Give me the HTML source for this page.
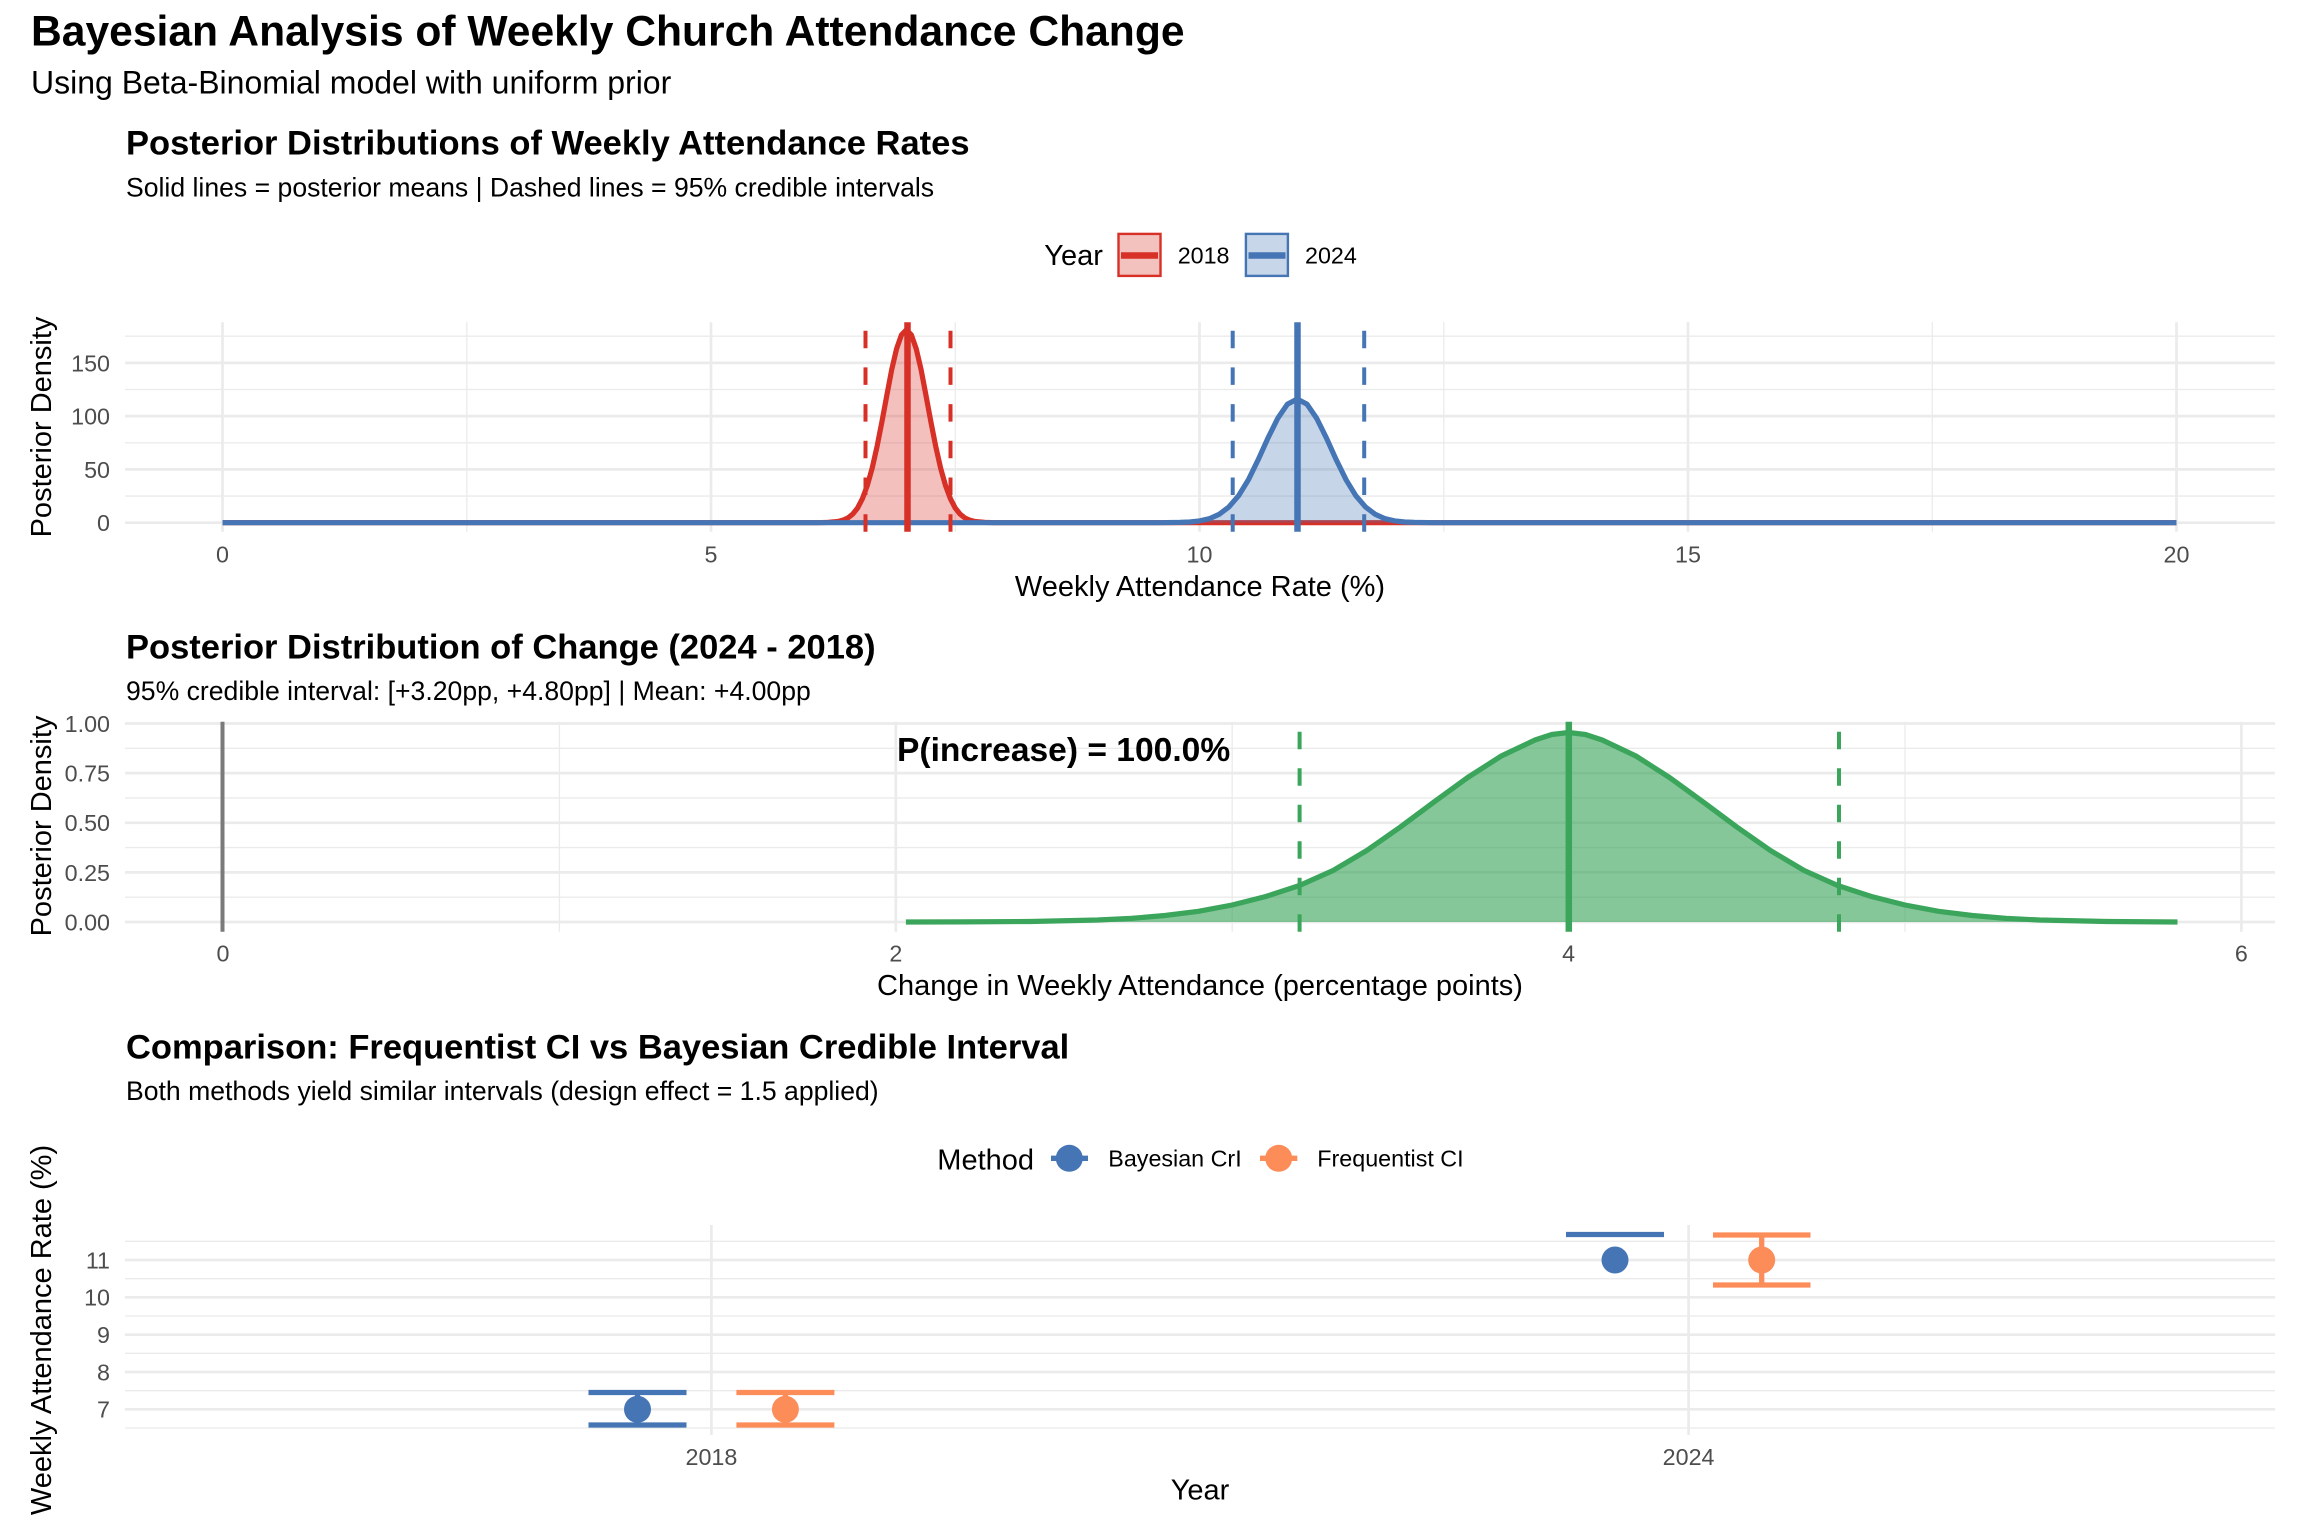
<!DOCTYPE html>
<html><head><meta charset="utf-8"><style>
html,body{margin:0;padding:0;background:#fff;}
svg{display:block;}
text{font-family:"Liberation Sans",Arial,sans-serif;}
.tk{font-size:23.3px;fill:#4d4d4d;}
.at{font-size:29px;fill:#000;}
.pt{font-size:34.5px;font-weight:bold;fill:#000;}
.ps{font-size:26.6px;fill:#000;}
.lg{font-size:23.3px;fill:#000;}
.gM{stroke:#ebebeb;stroke-width:2.7;fill:none;}
.gm{stroke:#ebebeb;stroke-width:1.35;fill:none;}
</style></head><body>
<svg width="2304" height="1536" viewBox="0 0 2304 1536" xmlns="http://www.w3.org/2000/svg">
<rect width="2304" height="1536" fill="#fff"/>
<!-- Main titles -->
<text x="31" y="45.7" style="font-size:42.6px;font-weight:bold">Bayesian Analysis of Weekly Church Attendance Change</text>
<text x="31" y="93.3" style="font-size:32px">Using Beta-Binomial model with uniform prior</text>

<!-- ============ PANEL 1 ============ -->
<text class="pt" x="126" y="154.3">Posterior Distributions of Weekly Attendance Rates</text>
<text class="ps" x="126" y="196.7">Solid lines = posterior means | Dashed lines = 95% credible intervals</text>
<!-- legend -->
<text class="at" x="1044.3" y="265">Year</text>
<rect x="1118.5" y="233.9" width="42" height="42" fill="#f3c1be" stroke="#d73027" stroke-width="2.4"/>
<line x1="1121" y1="255.5" x2="1158" y2="255.5" stroke="#d73027" stroke-width="6.5"/>
<text class="lg" x="1177.7" y="263.3">2018</text>
<rect x="1245.9" y="233.9" width="42" height="42" fill="#c7d6e8" stroke="#4575b4" stroke-width="2.4"/>
<line x1="1248.5" y1="255.5" x2="1285.5" y2="255.5" stroke="#4575b4" stroke-width="6.5"/>
<text class="lg" x="1305" y="263.3">2024</text>
<!-- grid -->
<g class="gm">
<line x1="125" y1="496.1" x2="2275" y2="496.1"/><line x1="125" y1="442.8" x2="2275" y2="442.8"/>
<line x1="125" y1="389.5" x2="2275" y2="389.5"/><line x1="125" y1="336.2" x2="2275" y2="336.2"/>
<line x1="466.8" y1="322.3" x2="466.8" y2="531.7"/><line x1="955.3" y1="322.3" x2="955.3" y2="531.7"/>
<line x1="1443.8" y1="322.3" x2="1443.8" y2="531.7"/><line x1="1932.3" y1="322.3" x2="1932.3" y2="531.7"/>
</g>
<g class="gM">
<line x1="125" y1="522.7" x2="2275" y2="522.7"/><line x1="125" y1="469.4" x2="2275" y2="469.4"/>
<line x1="125" y1="416.1" x2="2275" y2="416.1"/><line x1="125" y1="362.9" x2="2275" y2="362.9"/>
<line x1="222.5" y1="322.3" x2="222.5" y2="531.7"/><line x1="711" y1="322.3" x2="711" y2="531.7"/>
<line x1="1199.5" y1="322.3" x2="1199.5" y2="531.7"/><line x1="1688" y1="322.3" x2="1688" y2="531.7"/>
<line x1="2176.5" y1="322.3" x2="2176.5" y2="531.7"/>
</g>
<!-- red density -->
<polygon fill="#d73027" fill-opacity="0.3" points="818.5,522.7 828.2,522.4 838,521.5 842.9,520.2 847.8,518 852.7,514.1 857.6,508 862.4,498.7 867.3,485.5 872.2,468.1 877.1,446.3 882,421.4 886.9,395 891.7,369.7 896.6,348.7 901.5,334.8 906.4,329.9 911.3,334.8 916.2,348.7 921.1,369.7 925.9,395 930.8,421.4 935.7,446.3 940.6,468.1 945.5,485.5 950.4,498.7 955.2,508 960.1,514.1 965,518 969.9,520.2 974.8,521.5 984.6,522.4 994.3,522.7"/>
<polyline fill="none" stroke="#d73027" stroke-width="5.2" stroke-linejoin="round" points="222.5,522.7 818.5,522.7 828.2,522.4 838,521.5 842.9,520.2 847.8,518 852.7,514.1 857.6,508 862.4,498.7 867.3,485.5 872.2,468.1 877.1,446.3 882,421.4 886.9,395 891.7,369.7 896.6,348.7 901.5,334.8 906.4,329.9 911.3,334.8 916.2,348.7 921.1,369.7 925.9,395 930.8,421.4 935.7,446.3 940.6,468.1 945.5,485.5 950.4,498.7 955.2,508 960.1,514.1 965,518 969.9,520.2 974.8,521.5 984.6,522.4 994.3,522.7 2176.5,522.7"/>
<!-- blue density -->
<polygon fill="#4575b4" fill-opacity="0.3" points="1160.4,522.7 1180,522.4 1189.7,522 1199.5,520.9 1209.3,518.7 1219,514.4 1228.8,507.1 1238.6,495.7 1248.4,479.8 1258.1,459.9 1267.9,438.2 1277.7,418.4 1287.4,404.2 1297.2,399.1 1307,404.2 1316.7,418.4 1326.5,438.2 1336.3,459.9 1346.1,479.8 1355.8,495.7 1365.6,507.1 1375.4,514.4 1385.1,518.7 1394.9,520.9 1404.7,522 1414.4,522.4 1434,522.7"/>
<polyline fill="none" stroke="#4575b4" stroke-width="5.2" stroke-linejoin="round" points="222.5,522.7 1160.4,522.7 1180,522.4 1189.7,522 1199.5,520.9 1209.3,518.7 1219,514.4 1228.8,507.1 1238.6,495.7 1248.4,479.8 1258.1,459.9 1267.9,438.2 1277.7,418.4 1287.4,404.2 1297.2,399.1 1307,404.2 1316.7,418.4 1326.5,438.2 1336.3,459.9 1346.1,479.8 1355.8,495.7 1365.6,507.1 1375.4,514.4 1385.1,518.7 1394.9,520.9 1404.7,522 1414.4,522.4 1434,522.7 2176.5,522.7"/>
<!-- vlines -->
<g stroke-width="4" stroke-dasharray="17.5 19.2">
<line x1="865.5" y1="531.7" x2="865.5" y2="322.3" stroke="#d73027"/>
<line x1="950.5" y1="531.7" x2="950.5" y2="322.3" stroke="#d73027"/>
<line x1="1232.7" y1="531.7" x2="1232.7" y2="322.3" stroke="#4575b4"/>
<line x1="1364.2" y1="531.7" x2="1364.2" y2="322.3" stroke="#4575b4"/>
</g>
<line x1="907.5" y1="531.7" x2="907.5" y2="322.3" stroke="#d73027" stroke-width="6.5"/>
<line x1="1297.5" y1="531.7" x2="1297.5" y2="322.3" stroke="#4575b4" stroke-width="6.5"/>
<!-- axes text -->
<g class="tk" text-anchor="end">
<text x="110" y="531.1">0</text><text x="110" y="477.8">50</text><text x="110" y="424.5">100</text><text x="110" y="371.3">150</text>
</g>
<g class="tk" text-anchor="middle">
<text x="222.5" y="562.5">0</text><text x="711" y="562.5">5</text><text x="1199.5" y="562.5">10</text><text x="1688" y="562.5">15</text><text x="2176.5" y="562.5">20</text>
</g>
<text class="at" x="1200" y="596" text-anchor="middle">Weekly Attendance Rate (%)</text>
<text class="at" transform="translate(51,427) rotate(-90)" text-anchor="middle">Posterior Density</text>

<!-- ============ PANEL 2 ============ -->
<text class="pt" x="126" y="658.3">Posterior Distribution of Change (2024 - 2018)</text>
<text class="ps" x="126" y="700">95% credible interval: [+3.20pp, +4.80pp] | Mean: +4.00pp</text>
<g class="gm">
<line x1="125" y1="897.2" x2="2275" y2="897.2"/><line x1="125" y1="847.6" x2="2275" y2="847.6"/>
<line x1="125" y1="797.9" x2="2275" y2="797.9"/><line x1="125" y1="748.3" x2="2275" y2="748.3"/>
<line x1="559.4" y1="721.7" x2="559.4" y2="931.7"/><line x1="1232.2" y1="721.7" x2="1232.2" y2="931.7"/>
<line x1="1905" y1="721.7" x2="1905" y2="931.7"/>
</g>
<g class="gM">
<line x1="125" y1="922" x2="2275" y2="922"/><line x1="125" y1="872.4" x2="2275" y2="872.4"/>
<line x1="125" y1="822.8" x2="2275" y2="822.8"/><line x1="125" y1="773.1" x2="2275" y2="773.1"/>
<line x1="125" y1="723.5" x2="2275" y2="723.5"/>
<line x1="223" y1="721.7" x2="223" y2="931.7"/><line x1="895.8" y1="721.7" x2="895.8" y2="931.7"/>
<line x1="1568.6" y1="721.7" x2="1568.6" y2="931.7"/><line x1="2241.4" y1="721.7" x2="2241.4" y2="931.7"/>
</g>
<line x1="222.5" y1="721.7" x2="222.5" y2="931.7" stroke="#7a7a7a" stroke-width="4"/>
<polygon fill="#3ba55c" fill-opacity="0.62" points="905.9,922 963.1,921.9 1030.4,921.5 1097.6,920 1131.3,918.4 1164.9,915.5 1198.5,911.3 1232.2,905 1265.8,896.5 1299.5,885.5 1333.1,870.5 1366.8,850.5 1400.4,827 1434,802 1467.7,777.5 1501.3,756 1535,740 1551.8,734.5 1568.6,732.5 1585.4,734.5 1602.2,740 1635.9,756 1669.5,777.5 1703.2,802 1736.8,827 1770.4,850.5 1804.1,870.5 1837.7,885.5 1871.4,896.5 1905,905 1938.6,911.3 1972.3,915.5 2005.9,918.4 2039.6,920 2106.8,921.5 2177.5,922"/>
<polyline fill="none" stroke="#3ba55c" stroke-width="5.2" stroke-linejoin="round" points="905.9,922 963.1,921.9 1030.4,921.5 1097.6,920 1131.3,918.4 1164.9,915.5 1198.5,911.3 1232.2,905 1265.8,896.5 1299.5,885.5 1333.1,870.5 1366.8,850.5 1400.4,827 1434,802 1467.7,777.5 1501.3,756 1535,740 1551.8,734.5 1568.6,732.5 1585.4,734.5 1602.2,740 1635.9,756 1669.5,777.5 1703.2,802 1736.8,827 1770.4,850.5 1804.1,870.5 1837.7,885.5 1871.4,896.5 1905,905 1938.6,911.3 1972.3,915.5 2005.9,918.4 2039.6,920 2106.8,921.5 2177.5,922"/>
<g stroke="#3ba55c" stroke-width="4" stroke-dasharray="17.5 19">
<line x1="1299.6" y1="931.7" x2="1299.6" y2="721.7"/>
<line x1="1839" y1="931.7" x2="1839" y2="721.7"/>
</g>
<line x1="1568.8" y1="931.7" x2="1568.8" y2="721.7" stroke="#3ba55c" stroke-width="6.5"/>
<text x="897" y="761" style="font-size:33.6px;font-weight:bold">P(increase) = 100.0%</text>
<g class="tk" text-anchor="end">
<text x="110" y="930.4">0.00</text><text x="110" y="880.8">0.25</text><text x="110" y="831.2">0.50</text><text x="110" y="781.5">0.75</text><text x="110" y="731.9">1.00</text>
</g>
<g class="tk" text-anchor="middle">
<text x="223" y="961.7">0</text><text x="895.8" y="961.7">2</text><text x="1568.6" y="961.7">4</text><text x="2241.4" y="961.7">6</text>
</g>
<text class="at" x="1200" y="995" text-anchor="middle">Change in Weekly Attendance (percentage points)</text>
<text class="at" transform="translate(51,826) rotate(-90)" text-anchor="middle">Posterior Density</text>

<!-- ============ PANEL 3 ============ -->
<text class="pt" x="126" y="1058.3">Comparison: Frequentist CI vs Bayesian Credible Interval</text>
<text class="ps" x="126" y="1100">Both methods yield similar intervals (design effect = 1.5 applied)</text>
<!-- legend -->
<text class="at" x="937.3" y="1169.3">Method</text>
<line x1="1051" y1="1158.3" x2="1088" y2="1158.3" stroke="#4575b4" stroke-width="5.3"/>
<circle cx="1069.3" cy="1158.3" r="13.5" fill="#4575b4"/>
<text class="lg" x="1108.3" y="1166.7">Bayesian CrI</text>
<line x1="1260" y1="1158.3" x2="1297.3" y2="1158.3" stroke="#fc8d59" stroke-width="5.3"/>
<circle cx="1278.7" cy="1158.3" r="13.5" fill="#fc8d59"/>
<text class="lg" x="1317.3" y="1166.7">Frequentist CI</text>
<!-- grid -->
<g class="gm">
<line x1="125" y1="1241.3" x2="2275" y2="1241.3"/><line x1="125" y1="1278.7" x2="2275" y2="1278.7"/>
<line x1="125" y1="1316" x2="2275" y2="1316"/><line x1="125" y1="1353.3" x2="2275" y2="1353.3"/>
<line x1="125" y1="1390.7" x2="2275" y2="1390.7"/><line x1="125" y1="1428" x2="2275" y2="1428"/>
</g>
<g class="gM">
<line x1="125" y1="1260" x2="2275" y2="1260"/><line x1="125" y1="1297.3" x2="2275" y2="1297.3"/>
<line x1="125" y1="1334.7" x2="2275" y2="1334.7"/><line x1="125" y1="1372" x2="2275" y2="1372"/>
<line x1="125" y1="1409.3" x2="2275" y2="1409.3"/>
<line x1="711.4" y1="1225" x2="711.4" y2="1435"/><line x1="1688.6" y1="1225" x2="1688.6" y2="1435"/>
</g>
<!-- error bars -->
<g stroke="#4575b4" stroke-width="5.3">
<line x1="588.5" y1="1392.5" x2="686.5" y2="1392.5"/>
<line x1="588.5" y1="1425" x2="686.5" y2="1425"/>
<line x1="637.5" y1="1392.5" x2="637.5" y2="1425"/>
<line x1="1566" y1="1234.5" x2="1664" y2="1234.5"/>
</g>
<g stroke="#fc8d59" stroke-width="5.3">
<line x1="736.4" y1="1392.5" x2="834.4" y2="1392.5"/>
<line x1="736.4" y1="1425" x2="834.4" y2="1425"/>
<line x1="785.4" y1="1392.5" x2="785.4" y2="1425"/>
<line x1="1713" y1="1235" x2="1810.5" y2="1235"/>
<line x1="1713" y1="1285" x2="1810.5" y2="1285"/>
<line x1="1761.7" y1="1235" x2="1761.7" y2="1285"/>
</g>
<circle cx="637.5" cy="1409.3" r="13.5" fill="#4575b4"/>
<circle cx="785.4" cy="1409.3" r="13.5" fill="#fc8d59"/>
<circle cx="1615" cy="1260" r="13.5" fill="#4575b4"/>
<circle cx="1761.7" cy="1260" r="13.5" fill="#fc8d59"/>
<g class="tk" text-anchor="end">
<text x="110" y="1417.7">7</text><text x="110" y="1380.4">8</text><text x="110" y="1343.1">9</text><text x="110" y="1305.7">10</text><text x="110" y="1268.4">11</text>
</g>
<g class="tk" text-anchor="middle">
<text x="711.4" y="1465">2018</text><text x="1688.6" y="1465">2024</text>
</g>
<text class="at" x="1200" y="1499.3" text-anchor="middle">Year</text>
<text class="at" transform="translate(51,1330) rotate(-90)" text-anchor="middle">Weekly Attendance Rate (%)</text>
</svg>
</body></html>
